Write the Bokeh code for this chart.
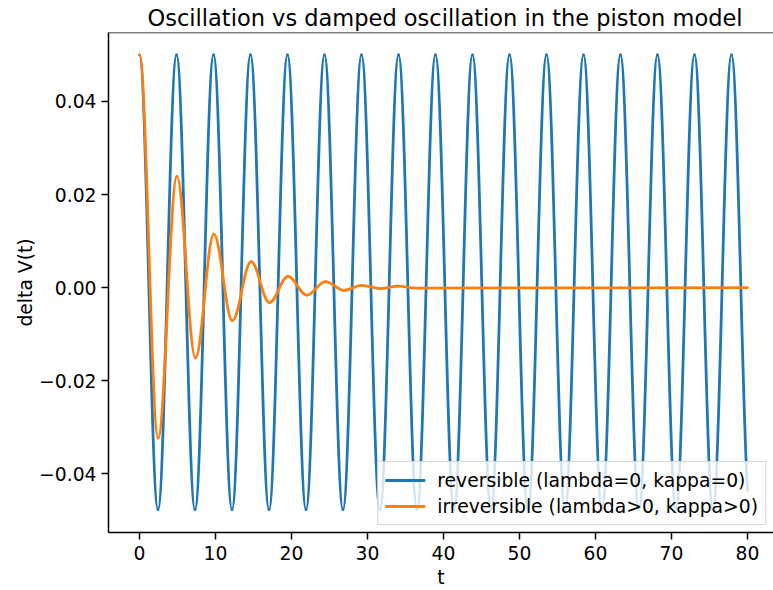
import numpy as np
from bokeh.plotting import figure
from bokeh.models import Range1d, FixedTicker, Legend, LegendItem, Span, ColumnDataSource
from bokeh.embed import file_html
from bokeh.resources import INLINE

# ---------------- data ----------------
title_text = "Oscillation vs damped oscillation in the piston model"
x_label = "t"
y_label = "delta V(t)"
x_ticks = [0, 10, 20, 30, 40, 50, 60, 70, 80]
x_tick_labels = ["0", "10", "20", "30", "40", "50", "60", "70", "80"]
y_ticks = [-0.04, -0.02, 0.0, 0.02, 0.04]
y_tick_labels = ["\u22120.04", "\u22120.02", "0.00", "0.02", "0.04"]

series_names = ["reversible (lambda=0, kappa=0)", "irreversible (lambda>0, kappa>0)"]

# reversible: turning points (time, value); the last one lies just past the end time
rev_t = [0.0, 2.43, 4.87, 7.30, 9.74, 12.17, 14.60, 17.04, 19.47, 21.91, 24.34,
         26.77, 29.21, 31.64, 34.08, 36.51, 38.94, 41.38, 43.81, 46.25, 48.68,
         51.11, 53.55, 55.98, 58.42, 60.85, 63.28, 65.72, 68.15, 70.59, 73.02,
         75.45, 77.89, 80.32]
rev_v = [0.0500, -0.0477, 0.0500, -0.0477, 0.0500, -0.0477, 0.0500, -0.0477,
         0.0500, -0.0477, 0.0500, -0.0477, 0.0500, -0.0477, 0.0500, -0.0477,
         0.0500, -0.0477, 0.0500, -0.0477, 0.0500, -0.0477, 0.0500, -0.0477,
         0.0500, -0.0477, 0.0500, -0.0477, 0.0500, -0.0477, 0.0500, -0.0477,
         0.0500, -0.0477]

# irreversible: turning points (time, value), then settled at zero until the end
irr_t = [0.0, 2.45, 4.92, 7.36, 9.78, 12.22, 14.68, 17.10, 19.54, 22.00, 24.45,
         26.90, 29.20, 31.70, 34.00, 36.50, 80.0]
irr_v = [0.0500, -0.0323, 0.0239, -0.0151, 0.0115, -0.0071, 0.0056, -0.0032,
         0.0024, -0.0016, 0.0013, -0.0006, 0.0005, -0.0002, 0.0003, -0.0001, 0.0]

t_end = 80.0

# ---------------- smooth half-cycle segments as cubic Bezier glyphs -------
K = 1.0 - 2.0 / np.pi  # control distance giving a cosine-like half swing


def _lerp(a, b, s):
    return (a[0] + (b[0] - a[0]) * s, a[1] + (b[1] - a[1]) * s)


def _split_left(P, s):
    p01 = _lerp(P[0], P[1], s)
    p12 = _lerp(P[1], P[2], s)
    p23 = _lerp(P[2], P[3], s)
    p012 = _lerp(p01, p12, s)
    p123 = _lerp(p12, p23, s)
    p0123 = _lerp(p012, p123, s)
    return [P[0], p01, p012, p0123]


def _bx(P, s):
    u = 1 - s
    return u**3 * P[0][0] + 3 * u * u * s * P[1][0] + 3 * u * s * s * P[2][0] + s**3 * P[3][0]


def segments(ts, vs, t_stop):
    d = dict(x0=[], y0=[], x1=[], y1=[], cx0=[], cy0=[], cx1=[], cy1=[])
    for i in range(len(ts) - 1):
        a, b = ts[i], ts[i + 1]
        if a >= t_stop:
            break
        h = b - a
        P = [(a, vs[i]), (a + K * h, vs[i]), (b - K * h, vs[i + 1]), (b, vs[i + 1])]
        if b > t_stop:
            lo, hi = 0.0, 1.0
            for _ in range(60):
                mid = 0.5 * (lo + hi)
                if _bx(P, mid) < t_stop:
                    lo = mid
                else:
                    hi = mid
            P = _split_left(P, lo)
        d["x0"].append(P[0][0]); d["y0"].append(P[0][1])
        d["cx0"].append(P[1][0]); d["cy0"].append(P[1][1])
        d["cx1"].append(P[2][0]); d["cy1"].append(P[2][1])
        d["x1"].append(P[3][0]); d["y1"].append(P[3][1])
    return ColumnDataSource(d)


FONT = "DejaVu Sans"
BLUE = "#1f77b4"
ORANGE = "#ff7f0e"

Y_TOP = 0.0548
p = figure(width=773, height=590, output_backend="svg", toolbar_location=None,
           x_range=Range1d(-4.08, 83.42), y_range=Range1d(-0.0526, Y_TOP),
           min_border_left=108, min_border_right=0, min_border_top=0, min_border_bottom=0)

p.title.text = title_text
p.title.text_font = FONT
p.title.text_font_size = "22.5px"
p.title.text_font_style = "normal"
p.title.text_color = "black"
p.title.align = "left"
p.title.offset = 39
p.title.standoff = 4

p.xgrid.visible = False
p.ygrid.visible = False
p.outline_line_color = None
p.background_fill_color = "white"
p.border_fill_color = "white"

for ax in (p.xaxis[0], p.yaxis[0]):
    ax.axis_line_width = 1.5
    ax.axis_line_color = "black"
    ax.major_tick_in = 0
    ax.major_tick_out = 7
    ax.major_tick_line_width = 1.5
    ax.major_tick_line_color = "black"
    ax.minor_tick_line_color = None
    ax.major_label_text_font = FONT
    ax.major_label_text_font_size = "18.75px"
    ax.major_label_text_color = "black"
    ax.axis_label_text_font = FONT
    ax.axis_label_text_font_size = "18.75px"
    ax.axis_label_text_font_style = "normal"
    ax.axis_label_text_color = "black"
    ax.major_label_standoff = 5

p.xaxis.ticker = FixedTicker(ticks=x_ticks)
p.xaxis.major_label_overrides = {t: l for t, l in zip(x_ticks, x_tick_labels)}
p.yaxis.ticker = FixedTicker(ticks=y_ticks)
p.yaxis.major_label_overrides = {t: l for t, l in zip(y_ticks, y_tick_labels)}
p.xaxis.axis_label = x_label
p.yaxis.axis_label = y_label
p.xaxis.major_label_standoff = 6
p.xaxis.axis_label_standoff = 4
p.xaxis.major_label_text_line_height = 0.9
p.xaxis.axis_label_text_line_height = 0.9
p.yaxis.axis_label_standoff = 0

# top spine
p.add_layout(Span(location=Y_TOP, dimension="width", line_color="black", line_width=1.5))

r_rev = p.bezier(x0="x0", y0="y0", x1="x1", y1="y1", cx0="cx0", cy0="cy0", cx1="cx1", cy1="cy1",
                 source=segments(rev_t, rev_v, t_end), line_color=BLUE, line_width=2.8, line_cap="round")
r_irr = p.bezier(x0="x0", y0="y0", x1="x1", y1="y1", cx0="cx0", cy0="cy0", cx1="cx1", cy1="cy1",
                 source=segments(irr_t, irr_v, t_end), line_color=ORANGE, line_width=2.8, line_cap="round")

legend = Legend(items=[LegendItem(label=series_names[0], renderers=[r_rev]),
                       LegendItem(label=series_names[1], renderers=[r_irr])],
                location="bottom_right", margin=7, padding=7, spacing=4,
                glyph_width=40, glyph_height=22, label_standoff=12,
                label_text_font=FONT, label_text_font_size="18.75px", label_text_color="black",
                border_line_color="#cccccc", border_line_alpha=0.8, border_line_width=1.3,
                background_fill_color="white", background_fill_alpha=0.8)
p.add_layout(legend, "center")

open("out.html", "w").write(file_html(p, INLINE))
